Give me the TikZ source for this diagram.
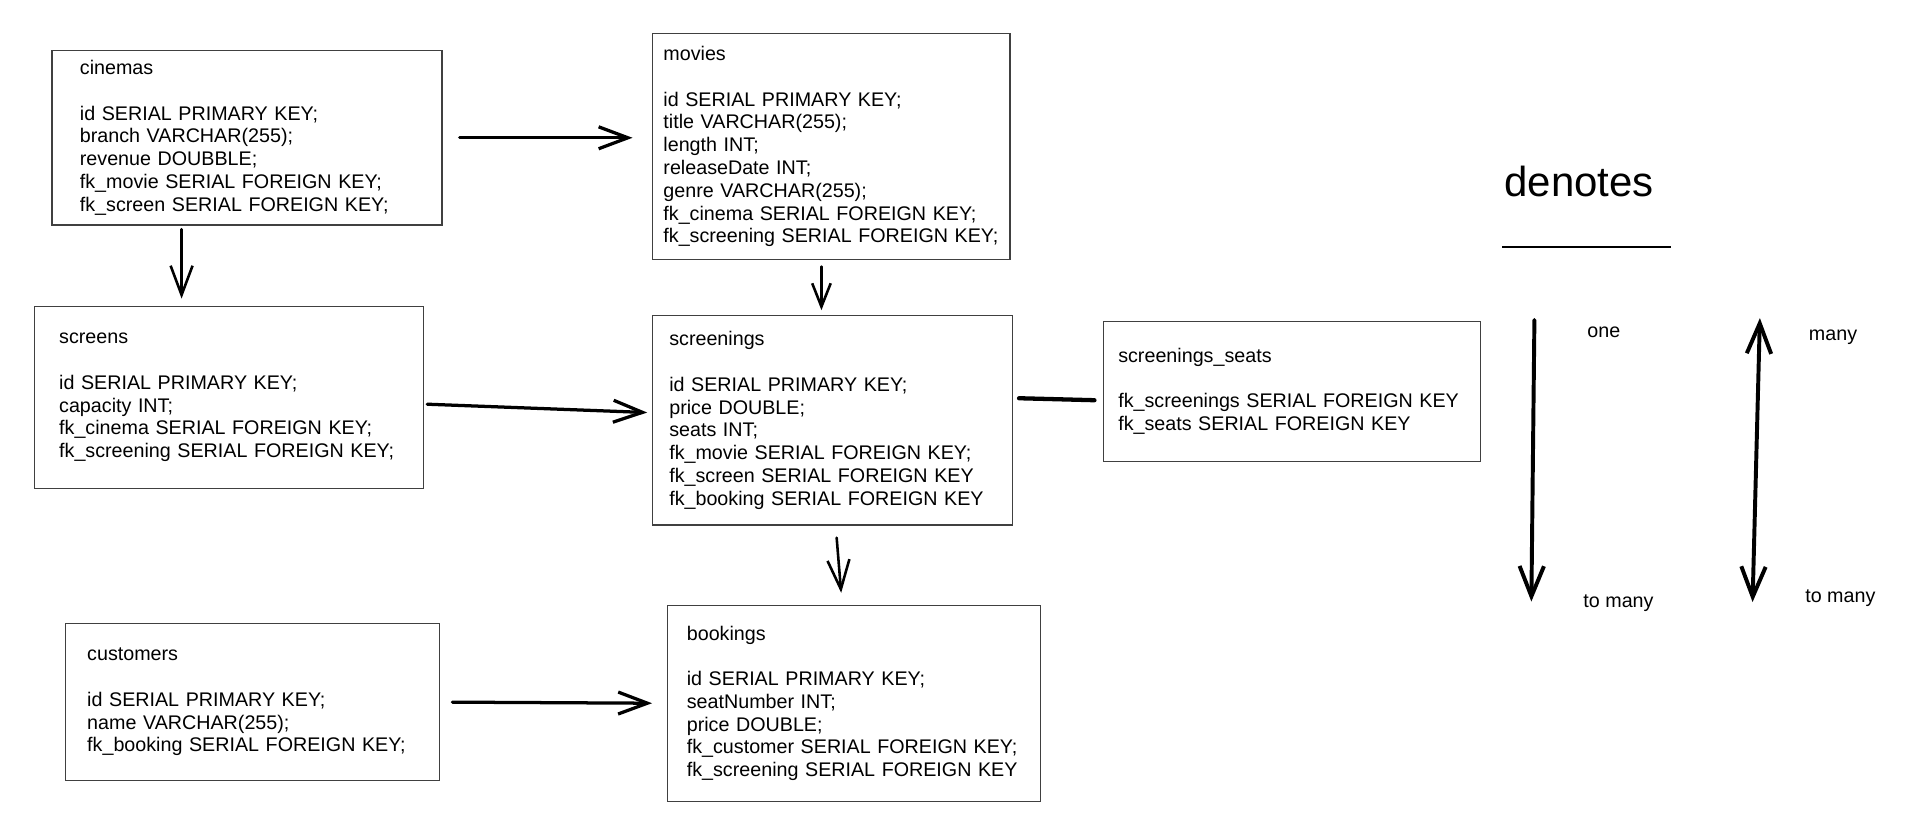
\documentclass[tikz,border=0pt]{standalone}
\usepackage{fontspec}
\setmainfont{Liberation Sans}
\usepackage{tikz}
\usetikzlibrary{arrows.meta}

\begin{document}
\begin{tikzpicture}[
  table/.style={draw=black!75, line width=0.8pt, anchor=north west, align=left, inner ysep=0pt, font=\fontsize{11.5}{13.3}\selectfont},
  fk/.style={-{Straight Barb[length=0.6cm, width=0.45cm]}, line width=1.9pt, line cap=round},
  fkthin/.style={fk, line width=1.5pt},
  note/.style={font=\fontsize{11.5}{13.3}\selectfont},
  legendarrow/.style={line width=2.3pt, line cap=round}
]

\useasboundingbox (0,0) rectangle (39.2,-16.975);

% table nodes

\node[table, minimum width=8cm, minimum height=3.575cm, text width=6.85cm, inner xsep=0.575cm] (cinemas) at (1.05,-1.025) {cinemas\\[13.3pt]id SERIAL PRIMARY KEY;\\branch VARCHAR(255);\\revenue DOUBBLE;\\fk\_movie SERIAL FOREIGN KEY;\\fk\_screen SERIAL FOREIGN KEY;};

\node[table, minimum width=7.325cm, minimum height=4.64cm, text width=6.885cm, inner xsep=0.22cm] (movies) at (13.375,-0.675) {movies\\[13.3pt]id SERIAL PRIMARY KEY;\\title VARCHAR(255);\\length INT;\\releaseDate INT;\\genre VARCHAR(255);\\fk\_cinema SERIAL FOREIGN KEY;\\fk\_screening SERIAL FOREIGN KEY;};

\node[table, minimum width=7.975cm, minimum height=3.725cm, text width=6.975cm, inner xsep=0.5cm] (screens) at (0.7,-6.275) {screens\\[13.3pt]id SERIAL PRIMARY KEY;\\capacity INT;\\fk\_cinema SERIAL FOREIGN KEY;\\fk\_screening SERIAL FOREIGN KEY;};

\node[table, minimum width=7.385cm, minimum height=4.29cm, text width=6.685cm, inner xsep=0.35cm] (screenings) at (13.365,-6.4625) {screenings\\[13.3pt]id SERIAL PRIMARY KEY;\\price DOUBLE;\\seats INT;\\fk\_movie SERIAL FOREIGN KEY;\\fk\_screen SERIAL FOREIGN KEY\\fk\_booking SERIAL FOREIGN KEY};

\node[table, minimum width=7.725cm, minimum height=2.875cm, text width=7.125cm, inner xsep=0.3cm] (seats) at (22.625,-6.575) {screenings\_seats\\[13.3pt]fk\_screenings SERIAL FOREIGN KEY\\fk\_seats SERIAL FOREIGN KEY};

\node[table, minimum width=7.675cm, minimum height=3.225cm, text width=6.775cm, inner xsep=0.45cm] (customers) at (1.325,-12.775) {customers\\[13.3pt]id SERIAL PRIMARY KEY;\\name VARCHAR(255);\\fk\_booking SERIAL FOREIGN KEY;};

\node[table, minimum width=7.65cm, minimum height=4.025cm, text width=6.85cm, inner xsep=0.4cm] (bookings) at (13.675,-12.4) {bookings\\[13.3pt]id SERIAL PRIMARY KEY;\\seatNumber INT;\\price DOUBLE;\\fk\_customer SERIAL FOREIGN KEY;\\fk\_screening SERIAL FOREIGN KEY};

% links

\coordinate (c1) at (3.725,0);
\coordinate (m1) at (16.85,0);

\draw[fk, shorten <=0.35cm, shorten >=0.4cm] (cinemas.east) -- (cinemas.east -| movies.west);
\draw[fkthin, shorten <=0.075cm, shorten >=0.15cm] (cinemas.south -| c1) -- (screens.north -| c1);
\draw[fkthin, -{Straight Barb[length=0.48cm, width=0.38cm]}, shorten <=0.125cm, shorten >=0.1cm] (movies.south -| m1) -- (screenings.north -| m1);
\draw[fk, shorten <=0.06cm, shorten >=0.09cm] ([yshift=-0.1375cm]screens.east) -- ([yshift=0.156cm]screenings.west);
\draw[fkthin, shorten <=0.25cm, shorten >=0.24cm] ([xshift=0.07cm]screenings.south) -- ([xshift=-0.24cm]bookings.north);
\draw[fk, shorten <=0.25cm, shorten >=0.3cm] (customers.east) -- (bookings.west);
\draw[line width=2.5pt, line cap=round, shorten <=0.125cm, shorten >=0.175cm] ([yshift=0.456cm]screenings.east) -- ([yshift=-0.1875cm]seats.west);

% legend

\node[font=\fontsize{24.5}{28}\selectfont] (denotes) at (32.39,-3.725) {denotes};
\draw[line width=1.5pt] (30.82,-5.07) -- (34.275,-5.07);

\coordinate (one top) at (31.475,-6.5625);
\coordinate (one bottom) at (31.4125,-12.34);
\coordinate (many top) at (36.1,-6.525);
\coordinate (many bottom) at (35.95,-12.35);

\draw[legendarrow, -{Straight Barb[length=0.62cm, width=0.5cm]}] (one top) -- (one bottom);
\draw[legendarrow, {Straight Barb[length=0.62cm, width=0.5cm]}-{Straight Barb[length=0.62cm, width=0.5cm]}] (many bottom) -- (many top);

\node[note] (one) at (32.9,-6.825) {one};
\node[note] (to many one) at (33.2,-12.375) {to many};
\node[note] (many) at (37.6,-6.925) {many};
\node[note] (to many many) at (37.75,-12.275) {to many};

\end{tikzpicture}
\end{document}
